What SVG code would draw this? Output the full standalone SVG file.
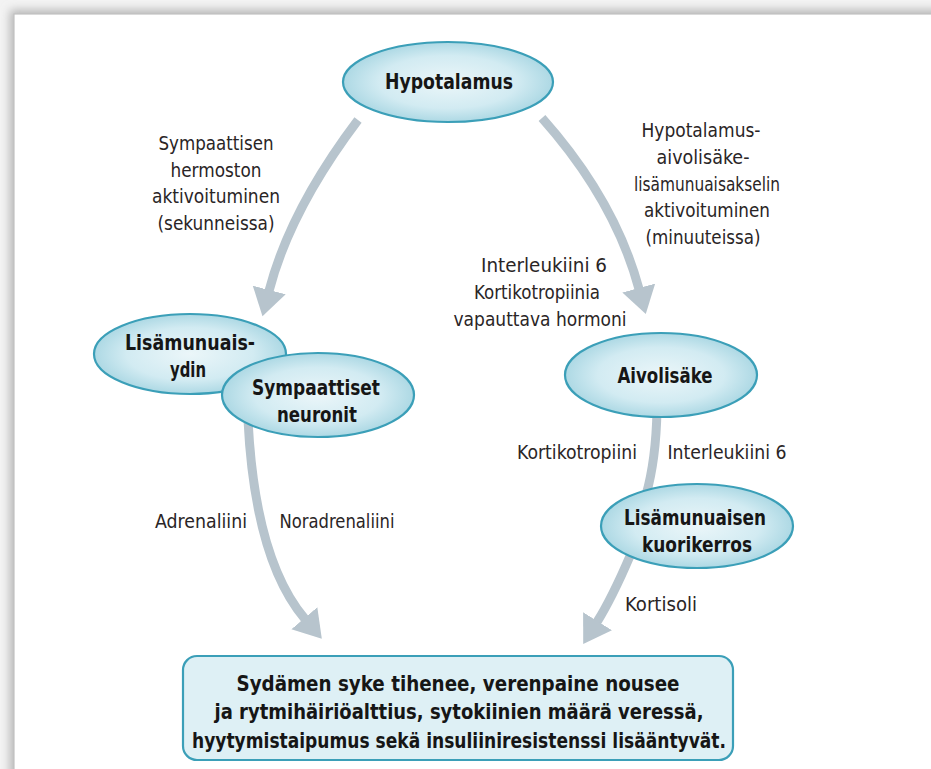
<svg xmlns="http://www.w3.org/2000/svg" width="931" height="769" viewBox="0 0 931 769">
<defs>
<radialGradient id="eg" cx="50%" cy="50%" r="55%">
<stop offset="0" stop-color="#ebf6f9"/>
<stop offset="0.6" stop-color="#d2ebf2"/>
<stop offset="1" stop-color="#a2d3e0"/>
</radialGradient>
<filter id="sh" x="-10%" y="-10%" width="120%" height="120%">
<feGaussianBlur stdDeviation="5"/>
</filter>
<marker id="ah" markerUnits="userSpaceOnUse" markerWidth="30" markerHeight="36" refX="1" refY="17" orient="auto" viewBox="0 0 30 34">
<path d="M0,0 L27,17 L0,34 z" fill="#b7c4cd"/>
</marker>
<style>
.node ellipse{fill:url(#eg);stroke:#3b9fb8;stroke-width:2.2}
.nt{font-family:"Liberation Sans Narrow","DejaVu Sans Condensed","Liberation Sans",sans-serif;font-weight:bold;font-size:21px;fill:#161616;text-anchor:middle}
.lb{font-family:"Liberation Sans Narrow","DejaVu Sans Condensed","Liberation Sans",sans-serif;font-size:19px;fill:#2a2526;text-anchor:middle}
.ar{fill:none;stroke:#b7c4cd;stroke-width:9}
</style>
</defs>
<rect width="931" height="769" fill="#f3f3f3"/>
<rect x="10" y="10" width="960" height="800" fill="#b5b5b5" filter="url(#sh)"/>
<rect x="14" y="14" width="960" height="800" fill="#ffffff" stroke="#c2c2c2" stroke-width="1.2"/>

<g id="connectors">
<path class="ar" d="M358,120 Q290,210 269,291" marker-end="url(#ah)"/>
<path class="ar" d="M542,118 Q615,200 639,289" marker-end="url(#ah)"/>
<path class="ar" d="M248,420 Q255,560 305,619" marker-end="url(#ah)"/>
<path class="ar" d="M657,410 Q656,460 646,495"/>
<path class="ar" d="M630,556 Q612,598 597,622" marker-end="url(#ah)"/>
</g>

<g id="labels">
<text class="lb" x="216" y="150" textLength="115" lengthAdjust="spacingAndGlyphs">Sympaattisen</text>
<text class="lb" x="216" y="177" textLength="91" lengthAdjust="spacingAndGlyphs">hermoston</text>
<text class="lb" x="216" y="203" textLength="128" lengthAdjust="spacingAndGlyphs">aktivoituminen</text>
<text class="lb" x="216" y="230" textLength="117" lengthAdjust="spacingAndGlyphs">(sekunneissa)</text>
<text class="lb" x="701" y="137" textLength="119" lengthAdjust="spacingAndGlyphs">Hypotalamus-</text>
<text class="lb" x="703" y="164" textLength="93" lengthAdjust="spacingAndGlyphs">aivolisäke-</text>
<text class="lb" x="707" y="191" textLength="146" lengthAdjust="spacingAndGlyphs">lisämunuaisakselin</text>
<text class="lb" x="707" y="217" textLength="126" lengthAdjust="spacingAndGlyphs">aktivoituminen</text>
<text class="lb" x="703" y="244" textLength="115" lengthAdjust="spacingAndGlyphs">(minuuteissa)</text>
<text class="lb" x="544" y="272" textLength="126" lengthAdjust="spacingAndGlyphs">Interleukiini 6</text>
<text class="lb" x="537" y="299" textLength="126" lengthAdjust="spacingAndGlyphs">Kortikotropiinia</text>
<text class="lb" x="540" y="326" textLength="173" lengthAdjust="spacingAndGlyphs">vapauttava hormoni</text>
<text class="lb" x="577" y="459" textLength="120" lengthAdjust="spacingAndGlyphs">Kortikotropiini</text>
<text class="lb" x="727" y="459" textLength="119" lengthAdjust="spacingAndGlyphs">Interleukiini 6</text>
<text class="lb" x="201" y="528" textLength="92" lengthAdjust="spacingAndGlyphs">Adrenaliini</text>
<text class="lb" x="337" y="528" textLength="115" lengthAdjust="spacingAndGlyphs">Noradrenaliini</text>
<text class="lb" x="661" y="611" textLength="72" lengthAdjust="spacingAndGlyphs">Kortisoli</text>
</g>

<g id="hypotalamus" class="node">
<ellipse cx="448" cy="82" rx="105" ry="40"/>
<text class="nt" x="449" y="89" textLength="128" lengthAdjust="spacingAndGlyphs">Hypotalamus</text>
</g>

<g id="lisamunuaisydin" class="node">
<ellipse cx="190" cy="354" rx="96" ry="40"/>
<text class="nt" x="190" y="350" textLength="130" lengthAdjust="spacingAndGlyphs">Lisämunuais-</text>
<text class="nt" x="188" y="377" textLength="36" lengthAdjust="spacingAndGlyphs">ydin</text>
</g>

<g id="sympaattiset" class="node">
<ellipse cx="318" cy="395" rx="96" ry="42"/>
<text class="nt" x="316" y="395" textLength="128" lengthAdjust="spacingAndGlyphs">Sympaattiset</text>
<text class="nt" x="317" y="422" textLength="80" lengthAdjust="spacingAndGlyphs">neuronit</text>
</g>

<g id="aivolisake" class="node">
<ellipse cx="661" cy="375" rx="96" ry="42"/>
<text class="nt" x="665" y="383" textLength="95" lengthAdjust="spacingAndGlyphs">Aivolisäke</text>
</g>

<g id="kuorikerros" class="node">
<ellipse cx="697" cy="526" rx="96" ry="42"/>
<text class="nt" x="695" y="525" textLength="142" lengthAdjust="spacingAndGlyphs">Lisämunuaisen</text>
<text class="nt" x="697" y="552" textLength="110" lengthAdjust="spacingAndGlyphs">kuorikerros</text>
</g>

<g id="outcome">
<rect x="183" y="656" width="550" height="104" rx="14" fill="#def0f5" stroke="#3b9fb8" stroke-width="2.2"/>
<text class="nt" x="458" y="691" textLength="443" lengthAdjust="spacingAndGlyphs">Sydämen syke tihenee, verenpaine nousee</text>
<text class="nt" x="459" y="719" textLength="489" lengthAdjust="spacingAndGlyphs">ja rytmihäiriöalttius, sytokiinien määrä veressä,</text>
<text class="nt" x="459" y="748" textLength="534" lengthAdjust="spacingAndGlyphs">hyytymistaipumus sekä insuliiniresistenssi lisääntyvät.</text>
</g>
</svg>
